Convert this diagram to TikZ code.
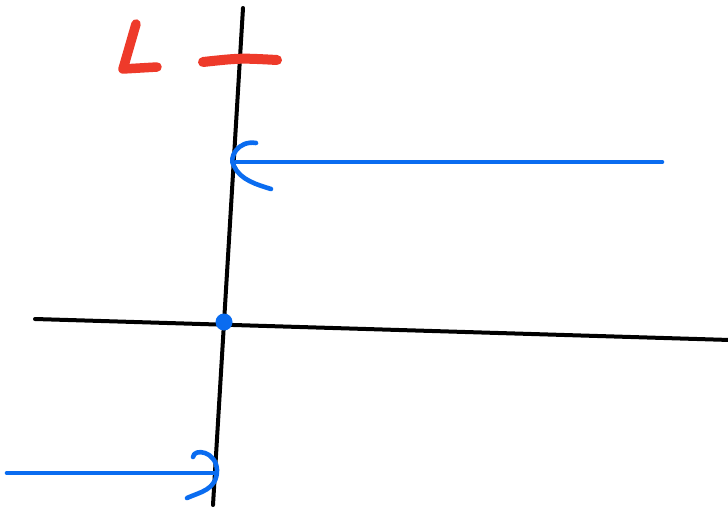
\documentclass[tikz,border=0pt]{standalone}
\definecolor{inkred}{HTML}{EE3A2A}
\definecolor{inkblue}{HTML}{0A6CF0}
\tikzset{
  blackline/.style={black,line width=4pt,line cap=round},
  blueline/.style={inkblue,line width=4.6pt,line cap=round,line join=round},
  redmark/.style={inkred,line width=9.5pt,line cap=round,line join=round}
}
\begin{document}
\begin{tikzpicture}[x=1pt,y=-1pt]
\useasboundingbox (0,0) rectangle (728,511);
% axes
\coordinate (vtop) at (243,8);
\coordinate (vbot) at (213,505);
\coordinate (hl) at (35,319);
\coordinate (hr) at (730,340);
\draw[blackline] (vtop) -- (vbot);
\draw[blackline] (hl) -- (hr);
% red L and bar
\draw[redmark] (136,24) -- (123,69) -- (157,67);
\draw[inkred,line width=10pt,line cap=round] (203,62) .. controls (240,58) .. (277,60);
% intersection dot
\fill[inkblue] (224,322) circle (8.5);
% top arrow
\coordinate (ta) at (662,162);
\coordinate (tb) at (236,162);
\draw[blueline] (ta) -- (tb);
\draw[blueline] (256,143) .. controls (238,140) and (228,158) .. (234,166) .. controls (240,180) and (258,185) .. (271,189);
% bottom arrow
\coordinate (ba) at (7,473);
\coordinate (bb) at (214,473);
\draw[blueline] (ba) -- (bb);
\draw[blueline] (193,457) .. controls (194,448) and (216,451) .. (217,470) .. controls (217,490) and (200,492) .. (187,498);
\end{tikzpicture}
\end{document}
